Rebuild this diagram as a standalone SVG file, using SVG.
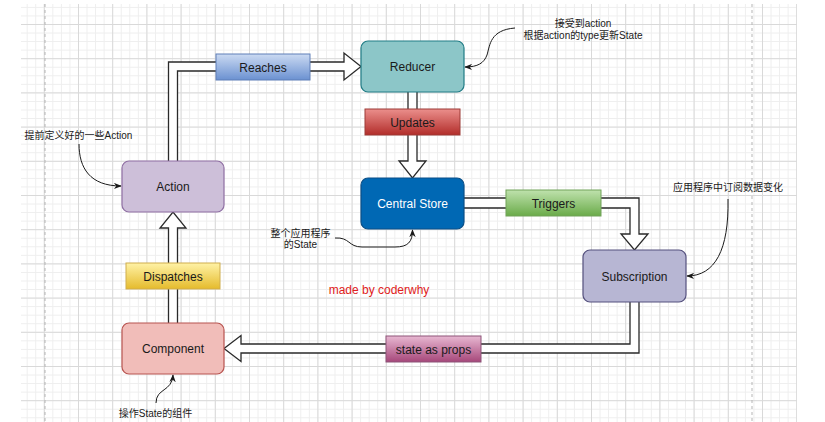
<svg xmlns="http://www.w3.org/2000/svg" width="825" height="422" viewBox="0 0 825 422">
<defs>
<pattern id="gMinor" width="8.55" height="8.55" x="78" y="24" patternUnits="userSpaceOnUse">
<path d="M0.5,0 L0.5,8.55 M0,0.5 L8.55,0.5" stroke="#eeeeee" stroke-width="1" fill="none"/>
</pattern>
<pattern id="gMajor" width="34.2" height="34.2" x="78" y="24" patternUnits="userSpaceOnUse">
<path d="M0.5,0 L0.5,34.2 M0,0.5 L34.2,0.5" stroke="#d9d9d9" stroke-width="1" fill="none"/>
</pattern>
<linearGradient id="gBlue" x1="0" y1="0" x2="0" y2="1"><stop offset="0" stop-color="#cbdaf2"/><stop offset="1" stop-color="#6b91d1"/></linearGradient>
<linearGradient id="gRed" x1="0" y1="0" x2="0" y2="1"><stop offset="0" stop-color="#eb8f8c"/><stop offset="1" stop-color="#b22d2a"/></linearGradient>
<linearGradient id="gGreen" x1="0" y1="0" x2="0" y2="1"><stop offset="0" stop-color="#bfe2ad"/><stop offset="1" stop-color="#6aab49"/></linearGradient>
<linearGradient id="gYellow" x1="0" y1="0" x2="0" y2="1"><stop offset="0" stop-color="#fff2a6"/><stop offset="1" stop-color="#e5bb2c"/></linearGradient>
<linearGradient id="gPink" x1="0" y1="0" x2="0" y2="1"><stop offset="0" stop-color="#e8b8d2"/><stop offset="1" stop-color="#a6477a"/></linearGradient>
<marker id="ah" viewBox="0 0 10 8" refX="9" refY="4" markerWidth="8" markerHeight="7" markerUnits="userSpaceOnUse" orient="auto">
<path d="M0,0 L10,4 L0,8 L3,4 Z" fill="#1a1a1a"/>
</marker>
</defs>
<style>
.node text, .lbl text { font-family: "Liberation Sans", Arial, "Noto Sans CJK SC", sans-serif; font-size: 12px; fill: #1a1a1a; text-anchor: middle; }
.node rect { stroke-width: 1.2; }
.flex { fill: #ffffff; stroke: #2a2a2a; stroke-width: 1.3; stroke-linejoin: miter; }
.lbl rect { stroke-width: 1; }
.note { font-family: "Liberation Sans", Arial, "Noto Sans CJK SC", sans-serif; font-size: 10px; fill: #1a1a1a; text-anchor: middle; }
.curve { fill: none; stroke: #1a1a1a; stroke-width: 1; marker-end: url(#ah); }
</style>
<rect x="0" y="0" width="825" height="422" fill="#ffffff"/>
<g id="grid">
<rect x="21" y="4" width="776" height="418" fill="url(#gMinor)"/>
<rect x="21" y="4" width="776" height="418" fill="url(#gMajor)"/>
<line x1="45" y1="4" x2="45" y2="422" stroke="#b5b5b5" stroke-width="1" stroke-dasharray="3,3"/>
<line x1="752" y1="4" x2="752" y2="422" stroke="#b5b5b5" stroke-width="1" stroke-dasharray="3,3"/>
</g>
<g id="connectors">
<path class="flex" d="M168.5,161 L168.5,62 L344,62 L344,53 L361,66.5 L344,80 L344,71 L177.5,71 L177.5,161"/>
<path class="flex" d="M408,92 L408,161 L399,161 L412.5,178 L426,161 L417,161 L417,92"/>
<path class="flex" d="M464,198 L639,198 L639,234 L648,234 L634.5,250 L621,234 L630,234 L630,208 L464,208"/>
<path class="flex" d="M630,302 L630,344 L241,344 L241,335.5 L224,348.5 L241,361.5 L241,353 L639,353 L639,302"/>
<path class="flex" d="M168.5,323 L168.5,228 L160,228 L173,212 L186,228 L177.5,228 L177.5,323"/>
<path class="curve" d="M79,144 C79,168 90,186 121,186"/>
<path class="curve" d="M515,28 C490,30 490,45 487,55 C484,63 478,67 465,67"/>
<path class="curve" d="M728,199 C729,250 715,276 687,276"/>
<path class="curve" d="M335,238 C350,237 348,247 362,247 L395,247 C408,247 412.5,242 412.5,230"/>
<path class="curve" d="M156,403 C156,388 172,392 173,375"/>
</g>
<g id="label-reaches" class="lbl"><rect x="216" y="54" width="94" height="26" fill="url(#gBlue)" stroke="#5f7fb8"/><text x="263" y="71.5">Reaches</text></g>
<g id="label-updates" class="lbl"><rect x="365" y="109" width="95" height="26" fill="url(#gRed)" stroke="#9c3b37"/><text x="412.5" y="126.5">Updates</text></g>
<g id="label-triggers" class="lbl"><rect x="506" y="190" width="95" height="26" fill="url(#gGreen)" stroke="#72a35a"/><text x="553.5" y="207.5">Triggers</text></g>
<g id="label-dispatches" class="lbl"><rect x="126" y="263" width="94" height="26" fill="url(#gYellow)" stroke="#d0ad4c"/><text x="173" y="280.5">Dispatches</text></g>
<g id="label-props" class="lbl"><rect x="386" y="336" width="95" height="26" fill="url(#gPink)" stroke="#8d5579"/><text x="433.5" y="353.5">state as props</text></g>
<g id="reducer" class="node"><rect x="361" y="41" width="103" height="51" rx="7" fill="#8cc6c8" stroke="#217c85"/><text x="412.5" y="71">Reducer</text></g>
<g id="action" class="node"><rect x="122" y="161" width="102" height="51" rx="7" fill="#cdbfd9" stroke="#8f6fa3"/><text x="173" y="191">Action</text></g>
<g id="central-store" class="node"><rect x="361" y="178" width="103" height="51" rx="7" fill="#0068b4" stroke="#0b4f87"/><text x="412.5" y="208" style="fill:#ffffff">Central Store</text></g>
<g id="subscription" class="node"><rect x="583" y="250" width="103" height="52" rx="7" fill="#b7b6d3" stroke="#55517e"/><text x="634.5" y="280.5">Subscription</text></g>
<g id="component" class="node"><rect x="122" y="323" width="102" height="51" rx="7" fill="#f1bdb9" stroke="#b85450"/><text x="173" y="353">Component</text></g>
<g id="notes">
<text class="note" x="78.5" y="139">提前定义好的一些Action</text>
<text class="note" x="583" y="27">接受到action</text>
<text class="note" x="583" y="39">根据action的type更新State</text>
<text class="note" x="728" y="191">应用程序中订阅数据变化</text>
<text class="note" x="300.5" y="236.5">整个应用程序</text>
<text class="note" x="300.5" y="248">的State</text>
<text class="note" x="155.5" y="417">操作State的组件</text>
<text x="379" y="294" style="font-family:'Liberation Sans', Arial, sans-serif;font-size:12px;fill:#e02020;text-anchor:middle">made by coderwhy</text>
</g>
</svg>
